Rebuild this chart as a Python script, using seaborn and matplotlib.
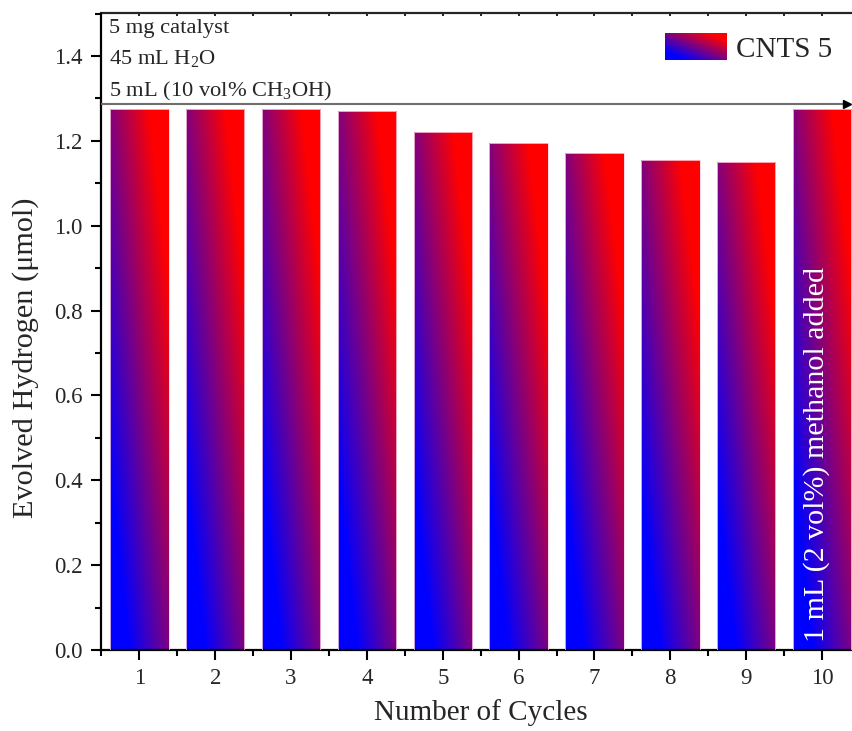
import numpy as np
import pandas as pd
import matplotlib
matplotlib.use("Agg")
import matplotlib.pyplot as plt
from matplotlib.ticker import FormatStrFormatter, MultipleLocator, FixedLocator
from matplotlib.patches import Rectangle
import seaborn as sns

# Hydrogen evolved per photocatalytic cycle (µmol)
cycles = ["1", "2", "3", "4", "5", "6", "7", "8", "9", "10"]
hydrogen = [1.275, 1.275, 1.275, 1.270, 1.221, 1.195, 1.172, 1.155, 1.151, 1.275]
series_name = "CNTS 5"
conditions = ["5 mg catalyst", "45 mL H$_\\mathrm{2}$O", "5 mL (10 vol% CH$_\\mathrm{3}$OH)"]
refill_note = "1 mL (2 vol%) methanol added"
ref_level = 1.287

sns.set_style("ticks")
plt.rcParams["font.family"] = ["serif"]
plt.rcParams["font.serif"] = ["Liberation Serif", "DejaVu Serif"]
plt.rcParams["mathtext.fontset"] = "custom"
plt.rcParams["mathtext.rm"] = "Liberation Serif"
plt.rcParams["mathtext.it"] = "Liberation Serif:italic"

W, H = 853, 731
fig = plt.figure(figsize=(W / 100, H / 100), dpi=100)
left_px, right_px, top_px, bottom_px = 101.4, 860.0, 13.5, 650.0
ax = fig.add_axes([left_px / W, 1 - bottom_px / H,
                   (right_px - left_px) / W, (bottom_px - top_px) / H])


def blue_red_gradient(nx=64, ny=256):
    """Diagonal blue -> purple -> red fill, blue at lower left, red at upper right."""
    u = np.linspace(0, 1, nx)[None, :]
    v = np.linspace(0, 1, ny)[:, None]
    t = np.clip(0.5 + 0.72 * (u - 0.5) + 0.75 * (v - 0.5), 0, 1)
    img = np.zeros((ny, nx, 3))
    img[..., 0] = t
    img[..., 2] = 1 - t
    return img


df = pd.DataFrame({"cycle": cycles, "h2": hydrogen})
sns.barplot(data=df, x="cycle", y="h2", color="red", width=0.77, ax=ax,
            saturation=1, edgecolor="none")

grad = blue_red_gradient()
for bar in ax.patches:
    x0, y0 = bar.get_x(), bar.get_y()
    w, h = bar.get_width(), bar.get_height()
    im = ax.imshow(grad, extent=(x0, x0 + w, y0, y0 + h), origin="lower",
                   aspect="auto", interpolation="bilinear", zorder=2)
    im.set_clip_path(bar)
    bar.set_facecolor("none")
    bar.set_edgecolor((1.0, 0.82, 0.88, 0.8))
    bar.set_linewidth(0.7)
    bar.set_zorder(3)

ax.set_xlim(-0.5, 9.5)
ax.set_ylim(0, 1.5)

# reference level with arrow
x_tip = 9.33
ax.plot([-0.5, x_tip], [ref_level, ref_level], color="#6e6e6e", lw=1.5, zorder=4)
ax.plot([x_tip], [ref_level], marker=">", color="black", ms=6, zorder=5)

# condition notes
note_y = [1.465, 1.395, 1.317]
for txt, yy in zip(conditions, note_y):
    ax.text(-0.4, yy, txt, fontsize=16.2, ha="left", va="center", zorder=6)

ax.text(8.93, 0.02, refill_note, rotation=90, color="white", fontsize=21.6,
        ha="center", va="bottom", zorder=6)

ax.yaxis.set_major_locator(MultipleLocator(0.2))
ax.yaxis.set_minor_locator(MultipleLocator(0.1))
ax.yaxis.set_major_formatter(FormatStrFormatter("%.1f"))
ax.xaxis.set_minor_locator(FixedLocator(np.arange(-0.5, 10, 1.0)))

ax.tick_params(axis="both", which="major", direction="out", length=7, width=1.5,
               labelsize=16.5, color="black")
ax.tick_params(axis="both", which="minor", direction="out", length=4, width=1.5,
               color="black")
ax.tick_params(axis="x", which="both", top=False)
ax.tick_params(axis="x", pad=6)
ax.tick_params(axis="y", pad=6.5)

for side in ["left", "bottom"]:
    ax.spines[side].set_linewidth(1.6)
    ax.spines[side].set_color("black")
ax.spines["right"].set_visible(False)
ax.spines["top"].set_visible(False)

top = ax.secondary_xaxis("top")
top.set_xticks(np.arange(-0.5, 10, 0.5))
top.tick_params(direction="in", length=2.5, width=1.2, labeltop=False, color="black")
top.spines["top"].set_linewidth(1.6)

ax.set_xlabel("Number of Cycles", fontsize=21, labelpad=7)
ax.set_ylabel("Evolved Hydrogen (\u03bcmol)", fontsize=21.8)
ax.yaxis.set_label_coords(-0.082, 0.459)

# legend with a gradient swatch
leg = ax.legend(handles=[Rectangle((0, 0), 1, 1, facecolor="none", edgecolor="none")],
                labels=[series_name], loc="upper right", frameon=False, fontsize=21,
                handlelength=2.1, handleheight=1.05, handletextpad=0.35,
                bbox_to_anchor=((859 - left_px) / (right_px - left_px), 1.01))
fig.canvas.draw()
hb = leg.legend_handles[0].get_window_extent()
(fx0, fy0), (fx1, fy1) = fig.transFigure.inverted().transform([[hb.x0, hb.y0], [hb.x1, hb.y1]])
sw = fig.add_axes([fx0, fy0, fx1 - fx0, fy1 - fy0])
sw.imshow(blue_red_gradient(64, 32), origin="lower", aspect="auto",
          interpolation="bilinear", extent=(0, 1, 0, 1))
sw.axis("off")

fig.savefig("out.png", dpi=100)
